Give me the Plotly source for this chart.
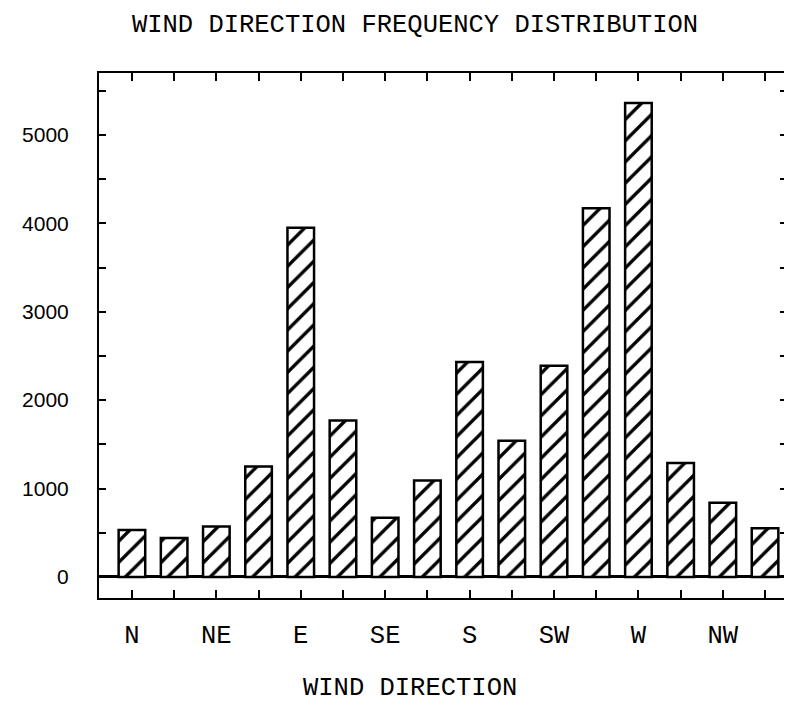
import plotly.graph_objects as go

# Data
DIRECTIONS = ["N", "NNE", "NE", "ENE", "E", "ESE", "SE", "SSE",
              "S", "SSW", "SW", "WSW", "W", "WNW", "NW", "NNW"]
FREQUENCY = [530, 440, 570, 1250, 3950, 1770, 670, 1090,
             2430, 1540, 2390, 4170, 5360, 1290, 840, 550]
X_TICK_LABELS = ["N", "", "NE", "", "E", "", "SE", "",
                 "S", "", "SW", "", "W", "", "NW", ""]
Y_TICK_VALUES = [0, 500, 1000, 1500, 2000, 2500, 3000, 3500,
                 4000, 4500, 5000, 5500]
Y_TICK_LABELS = ["0", "", "1000", "", "2000", "", "3000", "",
                 "4000", "", "5000", ""]

MONO = "Liberation Mono, Courier New, monospace"
SANS = "Liberation Sans, Arial, sans-serif"

# page body has an 8px margin, so the figure is laid out 8px smaller
W, H = 784, 704

fig = go.Figure(
    go.Bar(
        x=DIRECTIONS,
        y=FREQUENCY,
        width=0.63,
        marker=dict(
            color="white",
            line=dict(color="black", width=2.5),
            pattern=dict(shape="/", fgcolor="black", bgcolor="white",
                         fgopacity=1, size=15, solidity=0.22),
        ),
    )
)

fig.update_layout(
    width=W,
    height=H,
    margin=dict(l=91, r=5, t=65, b=114, autoexpand=False),
    paper_bgcolor="white",
    plot_bgcolor="white",
    showlegend=False,
    title=dict(
        text="WIND DIRECTION FREQUENCY DISTRIBUTION",
        font=dict(family=MONO, size=25.5, color="black"),
        x=407 / W, xanchor="center",
        y=1 - 15 / H, yanchor="middle",
        xref="container", yref="container",
    ),
    xaxis=dict(
        type="category",
        range=[-0.78, 15.52],
        tickmode="array",
        tickvals=DIRECTIONS,
        ticktext=X_TICK_LABELS,
        ticks="inside",
        ticklen=8,
        tickwidth=2,
        tickcolor="black",
        showline=True,
        linecolor="black",
        linewidth=2,
        mirror="ticks",
        showgrid=False,
        automargin=False,
        ticklabelstandoff=12,
        tickfont=dict(family=MONO, size=25.5, color="black"),
    ),
    yaxis=dict(
        range=[-238, 5700],
        tickmode="array",
        tickvals=Y_TICK_VALUES,
        ticktext=Y_TICK_LABELS,
        ticks="inside",
        ticklen=7,
        tickwidth=2,
        tickcolor="black",
        showline=True,
        linecolor="black",
        linewidth=2,
        mirror="ticks",
        showgrid=False,
        zeroline=True,
        zerolinecolor="black",
        zerolinewidth=3,
        automargin=False,
        ticklabelstandoff=24,
        tickfont=dict(family=SANS, size=21, color="black"),
    ),
    annotations=[
        dict(
            text="WIND DIRECTION",
            font=dict(family=MONO, size=25.5, color="black"),
            xref="paper", yref="paper",
            x=(410 - 99) / 688, y=-(688 - 598) / 525,
            xanchor="center", yanchor="middle",
            showarrow=False,
        )
    ],
)

fig.write_html("out.html")
